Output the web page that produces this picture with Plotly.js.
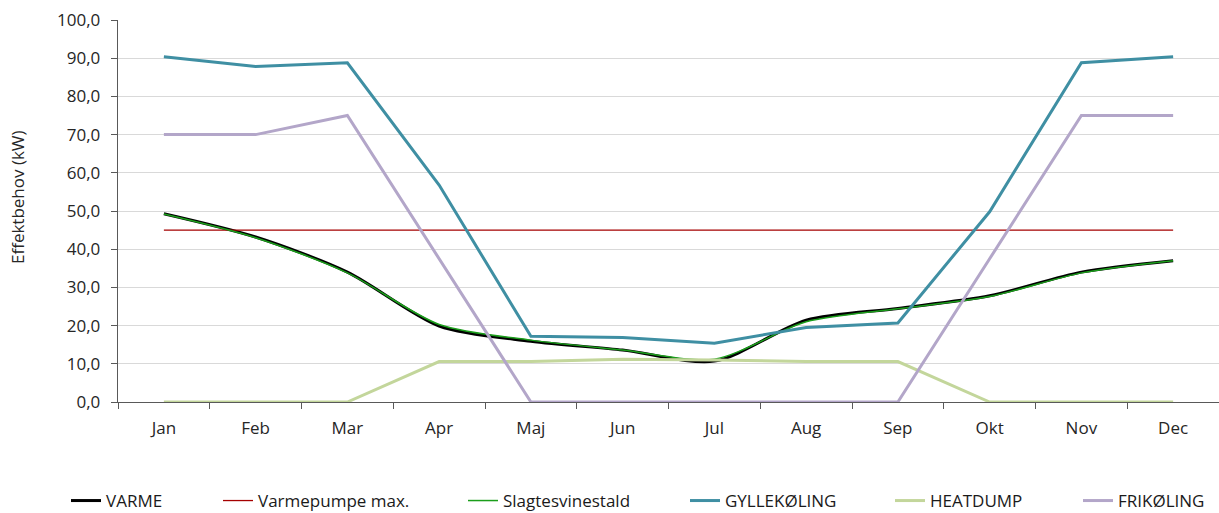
<!DOCTYPE html>
<html>
<head>
<meta charset="utf-8">
<script src="https://cdn.plot.ly/plotly-3.0.1.min.js"></script>
<style>html,body{margin:0;padding:0;background:#fff}#chart{width:1219px;height:513px}</style>
</head>
<body>
<div id="chart"></div>
<script>
const months = ["Jan","Feb","Mar","Apr","Maj","Jun","Jul","Aug","Sep","Okt","Nov","Dec"];
const varme = [49.3,43.2,34.0,19.9,15.9,13.6,10.7,21.4,24.5,27.8,34.0,37.0];
const varmepumpeMax = [45,45,45,45,45,45,45,45,45,45,45,45];
const slagtesvinestald = [49.2,43.0,33.8,20.3,16.2,13.6,11.2,21.0,24.4,27.6,33.8,37.0];
const gyllekoeling = [90.4,87.8,88.8,56.8,17.2,16.9,15.4,19.5,20.7,49.8,88.8,90.4];
const heatdump = [0,0,0,10.6,10.6,11.2,11.0,10.6,10.6,0,0,0];
const frikoeling = [70,70,75,37.5,0,0,0,0,0,37.5,75,75];

const fam = "Open Sans, Noto Sans, sans-serif";
const traces = [
  {name:"VARME", y:varme, line:{color:"#000000", width:3, shape:"spline", smoothing:0.8}, legend:"legend"},
  {name:"Varmepumpe max.", y:varmepumpeMax, line:{color:"#A50000", width:1.3}, legend:"legend2"},
  {name:"Slagtesvinestald", y:slagtesvinestald, line:{color:"#1B9E1B", width:1.5, shape:"spline", smoothing:0.8}, legend:"legend3"},
  {name:"GYLLEKØLING", y:gyllekoeling, line:{color:"#3F8FA3", width:3}, legend:"legend4"},
  {name:"HEATDUMP", y:heatdump, line:{color:"#C3D69B", width:3}, legend:"legend5"},
  {name:"FRIKØLING", y:frikoeling, line:{color:"#B3A6C9", width:3}, legend:"legend6"}
].map(t => Object.assign({type:"scatter", mode:"lines", x:months, hoverinfo:"skip"}, t));

const legY = (402-519)/382;
const legBase = {orientation:"h", y:legY, yanchor:"bottom", xanchor:"left", font:{family:fam, size:17, color:"#1a1a1a"}, bgcolor:"rgba(0,0,0,0)", itemwidth:30, tracegroupgap:0};
function leg(px){ return Object.assign({}, legBase, {x:(px-118)/1101}); }

const layout = {
  width:1219, height:513,
  margin:{l:118, r:0, t:20, b:111, autoexpand:false},
  paper_bgcolor:"#fff", plot_bgcolor:"#fff",
  font: {family:fam, color:"#262626"},
  separators: ",.",
  xaxis:{type:"category", range:[-0.5,11.5], tickson:"boundaries", ticks:"outside", ticklen:6, tickcolor:"#595959",
    ticklabelstandoff:10,
    showline:true, linecolor:"#595959", linewidth:1.3, showgrid:false, tickfont:{size:17, family:fam, color:"#262626"}, fixedrange:true},
  yaxis:{range:[0,100], dtick:10, tickformat:".1f", ticks:"outside", ticklen:6, tickcolor:"#595959",
    ticklabelstandoff:7,
    showline:true, linecolor:"#595959", linewidth:1.3, gridcolor:"#D9D9D9", gridwidth:1, zeroline:false,
    tickfont:{size:17, family:fam, color:"#262626"}, fixedrange:true},
  annotations:[{text:"Effektbehov (kW)", textangle:-90, xref:"paper", yref:"paper",
    x:(17-118)/1101, y:(402-197)/382, xanchor:"center", yanchor:"middle", showarrow:false,
    font:{size:17, family:fam, color:"#262626"}}],
  legend: leg(66),
  legend2: leg(218),
  legend3: leg(463),
  legend4: leg(685),
  legend5: leg(890),
  legend6: leg(1078),
  showlegend:true
};
Plotly.newPlot("chart", traces, layout, {staticPlot:true, displayModeBar:false});
</script>
</body>
</html>
